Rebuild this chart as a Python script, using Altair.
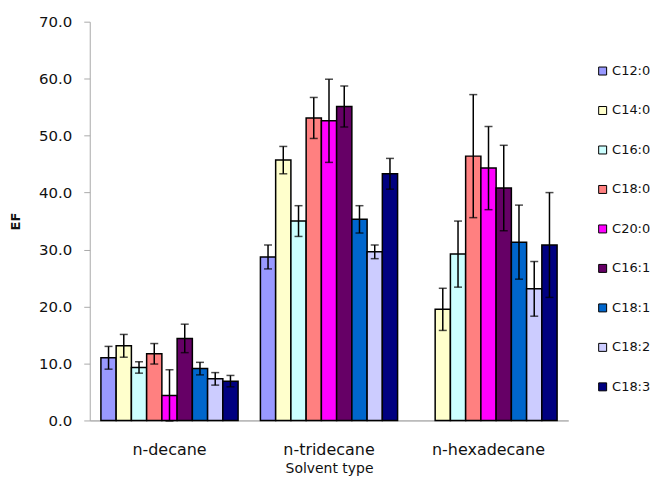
import altair as alt
import pandas as pd

solvents = ["n-decane", "n-tridecane", "n-hexadecane"]
series = ["C12:0", "C14:0", "C16:0", "C18:0", "C20:0", "C16:1", "C18:1", "C18:2", "C18:3"]
colors = ["#9999FF", "#FFFFCC", "#CCFFFF", "#FF8080", "#FF00FF", "#660066", "#0066CC", "#CCCCFF", "#000080"]

decane_ef = [11.0, 13.1, 9.3, 11.7, 4.4, 14.4, 9.1, 7.3, 6.9]
decane_err = [2.0, 2.0, 1.0, 1.8, 4.5, 2.5, 1.1, 1.1, 1.0]
tridecane_ef = [28.7, 45.7, 35.0, 53.1, 52.6, 55.1, 35.3, 29.6, 43.3]
tridecane_err = [2.1, 2.4, 2.7, 3.6, 7.3, 3.6, 2.4, 1.2, 2.7]
hexadecane_ef = [None, 19.5, 29.2, 46.4, 44.3, 40.8, 31.3, 23.1, 30.8]
hexadecane_err = [None, 3.7, 5.8, 10.8, 7.3, 7.5, 6.5, 4.8, 9.2]

rows = []
for solv, efs, errs in [("n-decane", decane_ef, decane_err),
                        ("n-tridecane", tridecane_ef, tridecane_err),
                        ("n-hexadecane", hexadecane_ef, hexadecane_err)]:
    for s, v, e in zip(series, efs, errs):
        if v is not None:
            rows.append({"solvent": solv, "fa": s, "ef": v, "lo": v - e, "hi": v + e})
df = pd.DataFrame(rows)

FONT = "DejaVu Sans"
TXT = "#111"

xenc = alt.X("solvent:N", sort=solvents, title="Solvent type",
             scale=alt.Scale(paddingInner=0.14, paddingOuter=0.07),
             axis=alt.Axis(labelAngle=0, labelFontSize=16, labelFont=FONT,
                           labelColor=TXT, titleFont=FONT, titleFontSize=14,
                           titleFontWeight="normal", titleColor=TXT, domainColor="#888",
                           ticks=False, labelPadding=21, titlePadding=4))
xoff = alt.XOffset("fa:N", sort=series, scale=alt.Scale(domain=series, paddingInner=0, paddingOuter=0))
yscale = alt.Scale(domain=[0, 70])

bars = alt.Chart(df).mark_bar(stroke="black", strokeWidth=1.5, opacity=1).encode(
    x=xenc,
    xOffset=xoff,
    y=alt.Y("ef:Q", scale=yscale, title="EF",
            axis=alt.Axis(values=[0, 10, 20, 30, 40, 50, 60, 70], format=".1f", grid=False,
                          labelFontSize=15, labelFont=FONT, labelColor=TXT,
                          titleFont=FONT, titleFontSize=13, titleFontWeight="bold",
                          titleColor=TXT, domainColor="#aaa", tickColor="#aaa", tickSize=6,
                          labelPadding=12, titlePadding=16)),
    color=alt.Color("fa:N", sort=series,
                    scale=alt.Scale(domain=series, range=colors),
                    legend=alt.Legend(title=None, orient="none", legendX=508, legendY=43,
                                      symbolType="square", symbolSize=64,
                                      symbolStrokeColor="black", symbolStrokeWidth=1,
                                      symbolOpacity=1, labelFontSize=13,
                                      labelFont=FONT, labelColor=TXT,
                                      rowPadding=25.6, labelOffset=3)),
)

rules = alt.Chart(df).mark_rule(color="black", strokeWidth=1.5).encode(
    x=alt.X("solvent:N", sort=solvents),
    xOffset=xoff,
    y=alt.Y("lo:Q", scale=yscale),
    y2="hi:Q",
)
caps_hi = alt.Chart(df).mark_tick(color="black", thickness=1.5, size=8, orient="horizontal").encode(
    x=alt.X("solvent:N", sort=solvents),
    xOffset=xoff,
    y=alt.Y("hi:Q", scale=yscale),
)
caps_lo = alt.Chart(df).mark_tick(color="black", thickness=1.5, size=8, orient="horizontal").encode(
    x=alt.X("solvent:N", sort=solvents),
    xOffset=xoff,
    y=alt.Y("lo:Q", scale=yscale),
)

chart = alt.layer(bars, rules, caps_hi, caps_lo).properties(
    width=480, height=400, padding={"left": 1, "top": 6, "right": 0, "bottom": 0}
).configure_view(stroke=None)

chart.save("out.html", embed_options={"renderer": "svg", "actions": False})
